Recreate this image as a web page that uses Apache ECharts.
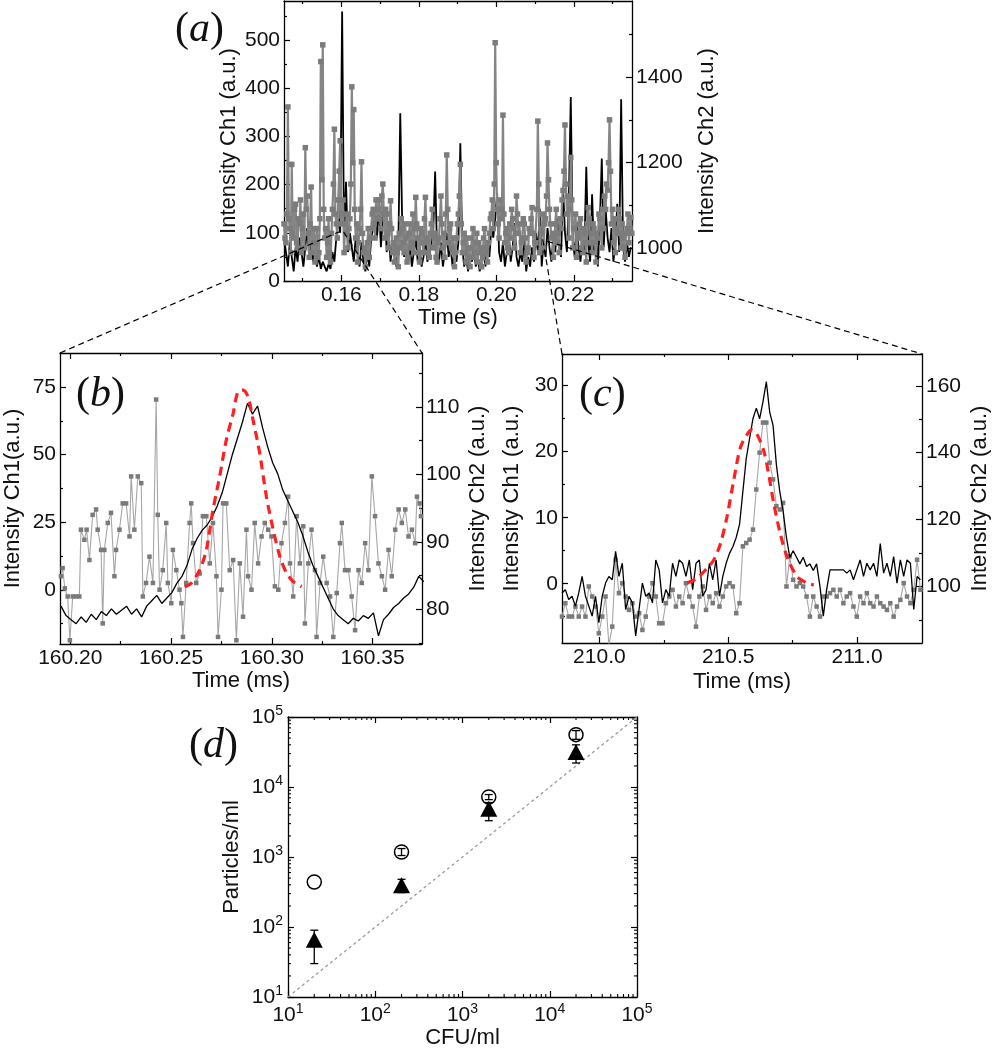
<!DOCTYPE html>
<html><head><meta charset="utf-8">
<script src="https://cdn.jsdelivr.net/npm/echarts@6/dist/echarts.min.js"></script>
<style>html,body{margin:0;padding:0;background:#fff}#c{width:993px;height:1050px}</style>
</head><body><div id="c"></div>
<script>
// ---------- DATA ----------
// (a) overview traces
const aStart = 0.1452;
const aCh1Step = 0.0005;   // Ch1 sampled every 0.5 ms
const aCh1 = [90,60,30,80,50,20,70,40,90,60,30,70,110,50,80,40,60,30,50,25,40,30,20,35,25,60,40,90,130,100,
559,80,206,60,100,70,40,90,60,30,80,40,20,60,30,90,110,140,90,160,70,130,150,60,100,40,80,50,30,70,
348,120,50,80,40,70,30,60,90,40,70,30,50,90,40,60,80,100,227,60,40,80,30,60,100,50,70,30,60,40,
80,286,70,30,50,20,60,40,70,30,50,20,40,60,30,80,50,110,90,130,182,60,40,80,30,60,100,40,70,120,
50,30,60,40,90,20,50,30,70,40,100,60,150,30,80,50,110,70,40,90,60,130,80,50,196,100,60,170,382,90,
50,120,70,40,90,60,237,80,40,180,60,100,30,120,254,70,150,90,60,110,40,80,160,60,377,70,40,80,50,70];
const aCh2Step = 0.00025;  // Ch2 sampled every 0.25 ms
const aCh2 = [
1057,1024,1013,1080,1330,1069,1046,990,1196,1035,1024,1091,1103,1013,1001,1069,1057,1113,990,1046,
1080,1001,1235,1091,1122,1035,979,1057,1143,990,1013,1046,968,1013,1046,979,990,1069,1436,1160,
1475,1091,1024,1046,979,1013,1069,990,968,1035,1091,1150,1278,1080,1057,1024,1113,1180,1251,1057,
1080,1113,990,1057,1035,1080,1001,1046,1069,1150,1377,1200,1324,1091,1024,1057,968,1013,1046,1091,
1202,1035,990,1001,957,990,1013,1046,979,1024,1046,1080,1091,1057,1024,1113,1069,1091,1113,1069,
1046,1122,1150,1080,1024,1091,1080,1035,1001,1057,1111,1046,990,1013,968,1001,1024,990,957,1035,
1001,1069,1046,1013,990,1057,1024,968,979,1035,1057,1001,1013,1080,990,1046,1119,1057,1024,990,
968,1046,1035,1013,990,1069,1119,1024,1013,990,979,1035,1057,1091,1001,1024,1035,979,968,1013,
1024,1069,1122,1057,1001,1035,979,1080,1218,1091,1013,1046,1057,1001,990,1024,957,990,1024,1057,
1080,1122,1196,1057,990,1013,1035,990,968,1024,1001,979,957,1001,1024,1046,979,990,1013,1035,
968,1013,990,1001,957,979,1024,1046,1001,990,968,1013,1035,1069,1080,1113,1046,1150,1480,1200,
1091,1057,1024,1113,1069,1091,1311,1080,1013,1035,1046,1001,990,1057,1024,1091,1069,1046,1001,1035,
1122,1080,1035,1057,990,1013,1024,1069,1057,1024,968,990,1001,1046,1035,1069,1095,1035,979,1013,
1013,1091,1297,1150,990,1046,1035,1080,1001,1057,1069,1122,1246,1160,1091,1057,1024,1035,979,1024,
1057,1091,1013,1035,990,1069,1046,1113,1135,1180,1288,1150,1080,1122,1024,1091,1212,1113,1001,1046,
1046,1080,979,1035,1024,1057,1069,1001,990,1046,1035,1013,968,1057,1095,1069,1013,1035,990,1057,
1046,1013,968,1035,1024,1080,1069,1046,1001,1091,1046,1122,1091,1150,1136,1200,1300,1180,1057,1091,
1013,1069,990,1046,1035,1091,1069,1035,1001,1057,1024,1001,979,1035,1046,1080,1013,1046,1072,1035];

// (b) event at ~160.29 ms
const bCh1Start = 160.1954, bCh1Step = 0.0025;
const bCh1 = [-6,-9.5,-11,-12.5,-10,-12,-9,-11,-8,-9.5,-7,-9,-7.5,-6,-9,-7,-10,-6,-4,-2,
-5,-3,-1,2.5,5,9,15,19,22,24,27,31,36,43,50,56,62,69,65,68,
60,53,47,43,37,33,29,25,20,14,9,5,1,-3,-7,-9.5,-11,-12.5,-10.5,-11.5,
-9.5,-10.5,-8.5,-17,-11,-9,-6.5,-5,-3,-1.5,1,5,3];
const bCh2Time = [160.1954,160.1962,160.1973,160.1987,160.1998,160.2012,160.2028,160.2045,160.2053,160.2070,
160.2081,160.2095,160.2111,160.2128,160.2136,160.2153,160.2161,160.2169,160.2186,160.2202,
160.2219,160.2227,160.2244,160.2260,160.2277,160.2294,160.2302,160.2318,160.2335,160.2352,
160.2360,160.2376,160.2393,160.2410,160.2426,160.2434,160.2443,160.2459,160.2476,160.2484,
160.2501,160.2509,160.2526,160.2542,160.2551,160.2559,160.2575,160.2592,160.2600,160.2609,
160.2625,160.2642,160.2658,160.2675,160.2692,160.2708,160.2725,160.2733,160.2750,160.2758,
160.2774,160.2791,160.2808,160.2824,160.2841,160.2857,160.2874,160.2882,160.2899,160.2915,
160.2932,160.2949,160.2965,160.2982,160.2998,160.3015,160.3032,160.3048,160.3065,160.3081,
160.3090,160.3106,160.3123,160.3139,160.3156,160.3164,160.3181,160.3197,160.3214,160.3222,
160.3239,160.3255,160.3272,160.3289,160.3305,160.3322,160.3338,160.3347,160.3363,160.3380,
160.3396,160.3413,160.3430,160.3446,160.3463,160.3479,160.3496,160.3512,160.3529,160.3546,
160.3562,160.3579,160.3595,160.3612,160.3629,160.3645,160.3662,160.3678,160.3695,160.3711,
160.3720,160.3733,160.3740];
const bCh2 = [84.9,86.1,83.1,81.9,75.4,81.9,81.9,81.9,91.8,90.3,
91.8,87.3,94.0,94.8,91.8,88.8,77.9,88.8,92.8,94.3,
84.9,88.8,91.8,95.7,95.7,90.8,99.7,91.8,99.7,98.7,
81.9,83.9,87.8,83.9,111.1,94.0,82.9,85.8,92.8,83.9,
80.9,88.8,85.8,82.9,80.9,75.9,83.9,92.8,95.7,89.8,
83.9,85.3,93.8,93.8,86.8,92.8,84.9,75.9,82.9,95.7,
95.7,85.8,87.3,75.4,86.8,78.9,91.8,84.9,82.9,92.8,
86.8,90.8,92.8,91.8,90.8,83.4,82.9,89.8,92.8,96.7,
86.8,81.9,93.8,86.8,92.3,77.9,86.8,91.8,85.8,75.9,
83.9,87.8,83.9,81.9,75.9,82.4,89.8,92.8,85.8,85.8,
81.9,76.9,85.8,83.9,89.8,85.8,99.7,93.8,86.8,84.9,
82.9,88.8,84.9,91.8,94.8,92.8,94.8,90.8,91.8,89.8,
96.7,95.7,93.8];
const bFitTime = [160.2567,160.2600,160.2642,160.2675,160.2708,160.2741,160.2774,160.2808,160.2832,160.2857,
160.2882,160.2907,160.2940,160.2973,160.3007,160.3040,160.3073,160.3106,160.3148];
const bFit = [1.2,2.5,7.4,14.8,29.6,41.9,55.4,65.3,73.3,73.9,71.4,62.8,50.5,34.5,22.2,12.3,6.2,3.1,1.2];

// (c) event at ~210.6 ms, sampled every 0.013 ms
const cStart = 209.855, cStep = 0.013;
const cCh1 = [-1.4,-0.9,-2.4,-1.9,-3.4,-1.4,1.1,-1.9,-3.4,-4.9,-1.9,-5.9,-1.9,0.1,1.1,0.6,4.9,1.1,3.1,-3.9,
-1.9,-2.9,-7.9,-3.9,0.1,-1.9,-1.4,-2.9,3.6,2.1,-2.9,-0.9,-1.9,3.1,1.1,3.6,3.1,1.1,3.6,-0.9,
3.1,3.6,-1.9,-0.9,3.1,0.6,3.6,-1.9,1.1,3.1,4.6,5.6,7,9,14,19,22,25,26.6,25,
27.6,30.6,26,24,18,14,11,7,4,5,4,3,4,2.6,3,2,3,-0.4,-4.9,-0.9,
2.1,2.1,2.1,2.1,2.1,1.6,2.1,0.6,2.1,3.6,1.1,3.1,2.1,3.1,1.1,6.1,1.6,3.1,1.1,4.1,
0.1,3.6,1.1,3.6,3.1,-3.9,1.1,0.6];
const cCh2 = [91,95,91,91,94,91,94,91,100,97,94,86,91,97,82.5,88,108,98,101,97,
93,95,91,92,87,91,97,101,97,89,89,95,97,99,94,97,95,101,97,94,
88,97,100,93,97,95,98,94,97,100,101,100,92,95,112,113,114,117,129,140,
149,149,137,132,124,123,125,100,109,102,100,101,100,97,91,97,94,91,97,97,
98,99,97,99,95,97,98,94,91,97,95,98,95,94,97,95,94,93,95,91,
94,96,101,97,95,99,108,99];
const cFitTime = [210.340,210.379,210.418,210.444,210.470,210.495,210.521,210.547,210.573,210.592,
210.612,210.638,210.657,210.677,210.702,210.728,210.767,210.806,210.832];
const cFit = [0.1,0.85,2.35,3.6,6.1,10.1,15.6,20.6,22.6,23.3,22.6,20.1,16.6,12.1,7.6,4.1,1.1,0.1,-0.2];

// (d) particles vs CFU
const dCFU = [20, 200, 2000, 20000];
const dCircle = [440, 1180, 7200, 56000];
const dCircleLo = [440, 1050, 6600, 48000];
const dCircleHi = [440, 1320, 7800, 64000];
const dTri = [66, 395, 4900, 31600];
const dTriLo = [30, 310, 3300, 22000];
const dTriHi = [90, 480, 6000, 40000];
const dRef = [10, 100000];

// tick values
const aXMajor = [0.16, 0.18, 0.20, 0.22], aXMinor = [0.15, 0.17, 0.19, 0.21, 0.23];
const aYLMajor = [0,100,200,300,400,500], aYLMinor = [50,150,250,350,450,550];
const aYRMajor = [1000,1200,1400], aYRMinor = [1100,1300,1500];
const bXMajor = [160.20,160.25,160.30,160.35], bXMinor = [160.225,160.275,160.325];
const bYLMajor = [0,25,50,75], bYLMinor = [-12.5,12.5,37.5,62.5];
const bYRMajor = [80,90,100,110], bYRMinor = [75,85,95,105,115];
const cXMajor = [210.0,210.5,211.0], cXMinor = [210.25,210.75];
const cYLMajor = [0,10,20,30], cYLMinor = [-5,5,15,25];
const cYRMajor = [100,120,140,160], cYRMinor = [90,110,130,150];

// ---------- CHART ----------
const FONT = '"Liberation Sans", Arial, sans-serif';
const TXT = '#111';
const LBL = 21, NAME = 22;
const chart = echarts.init(document.getElementById('c'), null, {renderer: 'canvas'});

const grids = [
  {left: 284, top: 1, width: 348, height: 280},
  {left: 60, top: 353, width: 362, height: 291},
  {left: 562, top: 354, width: 360, height: 289},
  {left: 288, top: 717, width: 349, height: 280}
];

function ax(o) {
  return {
    type: o.type || 'value', gridIndex: o.grid, position: o.pos,
    min: o.min, max: o.max, scale: true,
    splitNumber: o.splitNumber,
    name: o.name || '', nameLocation: 'middle', nameGap: o.nameGap || 0,
    nameTextStyle: {fontFamily: FONT, fontSize: NAME, color: TXT},
    axisLine: {show: o.line !== false, onZero: false, lineStyle: {color: '#000', width: 1.3}},
    axisTick: o.ticks === null ? {show: false} : Object.assign({show: true, inside: true, length: o.tickLen || 6,
      lineStyle: {color: '#000', width: 1.2}}, o.ticks ? {customValues: o.ticks} : {}),
    axisLabel: o.labels ? Object.assign({show: true, margin: o.margin || 4, fontFamily: FONT, fontSize: LBL, color: TXT,
      formatter: o.fmt, rich: o.rich}, o.labels === true ? {} : {customValues: o.labels}) : {show: false},
    splitLine: {show: false}, minorTick: {show: false}, minorSplitLine: {show: false}
  };
}
const f2 = v => v.toFixed(2), f1 = v => v.toFixed(1), f0 = v => String(Math.round(v));

function linearGrid(g, X, YL, YR) {
  const xs = [
    ax({grid: g, pos: 'bottom', min: X.min, max: X.max, ticks: X.major, labels: X.major, fmt: X.fmt, name: X.name, nameGap: X.gap}),
    ax({grid: g, pos: 'bottom', min: X.min, max: X.max, ticks: X.minor, tickLen: 3, line: false}),
    ax({grid: g, pos: 'top', min: X.min, max: X.max, ticks: X.major}),
    ax({grid: g, pos: 'top', min: X.min, max: X.max, ticks: X.minor, tickLen: 3, line: false})
  ];
  const ys = [
    ax({grid: g, pos: 'left', min: YL.min, max: YL.max, ticks: YL.major, labels: YL.major, fmt: f0, name: YL.name, nameGap: YL.gap}),
    ax({grid: g, pos: 'left', min: YL.min, max: YL.max, ticks: YL.minor, tickLen: 3, line: false}),
    ax({grid: g, pos: 'right', min: YR.min, max: YR.max, ticks: YR.major, labels: YR.major, fmt: f0, name: YR.name, nameGap: YR.gap}),
    ax({grid: g, pos: 'right', min: YR.min, max: YR.max, ticks: YR.minor, tickLen: 3, line: false})
  ];
  return {xs, ys};
}

const A = linearGrid(0,
  {min: 0.1452, max: 0.235, major: aXMajor, minor: aXMinor, fmt: f2, name: 'Time (s)', gap: 20},
  {min: 0, max: 581, major: aYLMajor, minor: aYLMinor, name: 'Intensity Ch1 (a.u.)', gap: 44},
  {min: 923.7, max: 1577.4, major: aYRMajor, minor: aYRMinor, name: 'Intensity Ch2 (a.u.)', gap: 64});
const B = linearGrid(1,
  {min: 160.1949, max: 160.3745, major: bXMajor, minor: bXMinor, fmt: f2, name: 'Time (ms)', gap: 26},
  {min: -20, max: 87.6, major: bYLMajor, minor: bYLMinor, name: 'Intensity Ch1(a.u.)', gap: 36},
  {min: 74.85, max: 118, major: bYRMajor, minor: bYRMinor, name: 'Intensity Ch2 (a.u.)', gap: 45});
const C = linearGrid(2,
  {min: 209.855, max: 211.252, major: cXMajor, minor: cXMinor, fmt: f1, name: 'Time (ms)', gap: 28},
  {min: -8.98, max: 34.8, major: cYLMajor, minor: cYLMinor, name: 'Intensity Ch1 (a.u.)', gap: 39},
  {min: 83.1, max: 169.5, major: cYRMajor, minor: cYRMinor, name: 'Intensity Ch2 (a.u.)', gap: 47});

const logFmt = v => '{b|10}{s|' + Math.round(Math.log10(v)) + '}';
const logRich = {b: {fontFamily: FONT, fontSize: LBL, color: TXT}, s: {fontFamily: FONT, fontSize: 14, color: TXT, padding: [0, 0, 12, 0]}};
const D = {
  xs: [
    ax({grid: 3, type: 'log', pos: 'bottom', min: 10, max: 100000, splitNumber: 4, labels: true, fmt: logFmt, rich: logRich, name: 'CFU/ml', nameGap: 30, margin: 5}),
    ax({grid: 3, type: 'log', pos: 'top', min: 10, max: 100000, splitNumber: 4})
  ],
  ys: [
    ax({grid: 3, type: 'log', pos: 'left', min: 10, max: 100000, splitNumber: 4, labels: true, fmt: logFmt, rich: logRich, name: 'Particles/ml', nameGap: 45, margin: 5}),
    ax({grid: 3, type: 'log', pos: 'right', min: 10, max: 100000, splitNumber: 4})
  ]
};

const xAxis = [...A.xs, ...B.xs, ...C.xs, ...D.xs];   // a:0-3, b:4-7, c:8-11, d:12-13
const yAxis = [...A.ys, ...B.ys, ...C.ys, ...D.ys];

const seq = (start, step, vals) => vals.map((v, i) => [+(start + i * step).toFixed(6), v]);
const zip = (t, v) => t.map((x, i) => [x, v[i]]);

// minor tick positions for log axes (2..9 per decade)
const logMinor = [];
[10, 100, 1000, 10000].forEach(d => { for (let k = 2; k <= 9; k++) logMinor.push(k * d); });

function errRender(params, api) {
  const x = api.value(0), lo = api.value(1), hi = api.value(2);
  if (lo === hi) return null;
  const p1 = api.coord([x, lo]), p2 = api.coord([x, hi]);
  const w = 4, st = {stroke: '#000', lineWidth: 1.3};
  return {type: 'group', children: [
    {type: 'line', shape: {x1: p1[0], y1: p1[1], x2: p2[0], y2: p2[1]}, style: st},
    {type: 'line', shape: {x1: p1[0] - w, y1: p1[1], x2: p1[0] + w, y2: p1[1]}, style: st},
    {type: 'line', shape: {x1: p2[0] - w, y1: p2[1], x2: p2[0] + w, y2: p2[1]}, style: st}
  ]};
}
function minorX(params, api) {
  const v = api.value(0);
  const b = api.coord([v, 10]), t = api.coord([v, 100000]);
  const st = {stroke: '#000', lineWidth: 1.1};
  return {type: 'group', children: [
    {type: 'line', shape: {x1: b[0], y1: b[1], x2: b[0], y2: b[1] - 3}, style: st},
    {type: 'line', shape: {x1: t[0], y1: t[1], x2: t[0], y2: t[1] + 3}, style: st}
  ]};
}
function minorY(params, api) {
  const v = api.value(1);
  const l = api.coord([10, v]), r = api.coord([100000, v]);
  const st = {stroke: '#000', lineWidth: 1.1};
  return {type: 'group', children: [
    {type: 'line', shape: {x1: l[0], y1: l[1], x2: l[0] + 3, y2: l[1]}, style: st},
    {type: 'line', shape: {x1: r[0], y1: r[1], x2: r[0] - 3, y2: r[1]}, style: st}
  ]};
}

const grayLine = (data, xi, yi, lineColor, markColor, lw, ms, z) => ({
  type: 'line', xAxisIndex: xi, yAxisIndex: yi, data, symbol: 'rect', symbolSize: ms, showSymbol: true, showAllSymbol: true,
  sampling: 'none', lineStyle: {color: lineColor, width: lw}, itemStyle: {color: markColor}, animation: false, silent: true, z
});
const blackLine = (data, xi, yi, lw, z) => ({
  type: 'line', xAxisIndex: xi, yAxisIndex: yi, data, symbol: 'none',
  lineStyle: {color: '#000', width: lw}, animation: false, silent: true, z
});
const redFit = (data, xi, yi) => ({
  type: 'line', xAxisIndex: xi, yAxisIndex: yi, data, symbol: 'none', smooth: 0.3,
  lineStyle: {color: '#ff1f1f', width: 3.2, type: [9, 6]}, animation: false, silent: true, z: 5
});

const series = [
  // (a)
  blackLine(seq(aStart, aCh1Step, aCh1), 0, 0, 1.8, 2),
  grayLine(seq(aStart, aCh2Step, aCh2), 0, 2, '#858585', '#7c7c7c', 2.2, 5.5, 3),
  // (b)
  grayLine(zip(bCh2Time, bCh2), 4, 6, '#a6a6a6', '#7a7a7a', 1.1, 4.5, 3),
  blackLine(seq(bCh1Start, bCh1Step, bCh1), 4, 4, 1.3, 4),
  redFit(zip(bFitTime, bFit), 4, 4),
  // (c)
  grayLine(seq(cStart, cStep, cCh2), 8, 10, '#a6a6a6', '#7a7a7a', 1.1, 4.5, 3),
  blackLine(seq(cStart, cStep, cCh1), 8, 8, 1.3, 4),
  redFit(zip(cFitTime, cFit), 8, 8),
  // (d)
  {type: 'line', xAxisIndex: 12, yAxisIndex: 12, data: [[dRef[0], dRef[0]], [dRef[1], dRef[1]]], symbol: 'none',
   lineStyle: {color: '#9a9a9a', width: 1.3, type: [3, 3]}, animation: false, silent: true},
  {type: 'scatter', xAxisIndex: 12, yAxisIndex: 12, data: zip(dCFU, dCircle), symbol: 'circle', symbolSize: 14,
   itemStyle: {color: '#fff', borderColor: '#000', borderWidth: 1.5, opacity: 1}, animation: false, silent: true, z: 3},
  {type: 'custom', xAxisIndex: 12, yAxisIndex: 12, renderItem: errRender, encode: {x: 0, y: [1, 2]},
   data: dCFU.map((c, i) => [c, dCircleLo[i], dCircleHi[i]]), animation: false, silent: true, z: 4},
  {type: 'scatter', xAxisIndex: 12, yAxisIndex: 12, data: zip(dCFU, dTri), symbol: 'triangle', symbolSize: [17, 16],
   itemStyle: {color: '#000', opacity: 1}, animation: false, silent: true, z: 5},
  {type: 'custom', xAxisIndex: 12, yAxisIndex: 12, renderItem: errRender, encode: {x: 0, y: [1, 2]},
   data: dCFU.map((c, i) => [c, dTriLo[i], dTriHi[i]]), animation: false, silent: true, z: 6},
  {type: 'custom', xAxisIndex: 12, yAxisIndex: 12, renderItem: minorX, encode: {x: 0, y: 1},
   data: logMinor.map(v => [v, 100]), animation: false, silent: true, clip: false},
  {type: 'custom', xAxisIndex: 12, yAxisIndex: 12, renderItem: minorY, encode: {x: 0, y: 1},
   data: logMinor.map(v => [100, v]), animation: false, silent: true, clip: false}
];

function panelLabel(id, letter, x, y) {
  return {type: 'text', id, left: x, top: y, z: 50, style: {
    text: '{p|(}{l|' + letter + '}{p|)}',
    rich: {
      p: {fontFamily: '"Liberation Serif", "Times New Roman", serif', fontSize: 42, fill: '#111'},
      l: {fontFamily: '"Liberation Serif", "Times New Roman", serif', fontSize: 42, fontStyle: 'italic', fill: '#111'}
    }
  }};
}

chart.setOption({
  backgroundColor: '#fff',
  animation: false,
  grid: grids.map(g => Object.assign({containLabel: false}, g)),
  xAxis, yAxis, series,
  graphic: [
    panelLabel('la', 'a', 175, 9),
    panelLabel('lb', 'b', 76, 374),
    panelLabel('lc', 'c', 579, 374),
    panelLabel('ld', 'd', 189, 725)
  ]
});

// zoom connectors from the overview (a) to panels (b) and (c)
const P1 = chart.convertToPixel({xAxisIndex: 0, yAxisIndex: 0}, [0.1603, 105]);
const P2 = chart.convertToPixel({xAxisIndex: 0, yAxisIndex: 0}, [0.212, 85]);
const bTL = chart.convertToPixel({xAxisIndex: 4, yAxisIndex: 4}, [160.1949, 87.6]);
const bTR = chart.convertToPixel({xAxisIndex: 4, yAxisIndex: 4}, [160.3745, 87.6]);
const cTL = chart.convertToPixel({xAxisIndex: 8, yAxisIndex: 8}, [209.855, 34.8]);
const cTR = chart.convertToPixel({xAxisIndex: 8, yAxisIndex: 8}, [211.252, 34.8]);
const dashSt = {stroke: '#000', lineWidth: 1.2, lineDash: [6, 4], fill: null};
chart.setOption({graphic: [
  {type: 'polyline', id: 'k1', z: 40, shape: {points: [bTL, P1, bTR]}, style: dashSt},
  {type: 'polyline', id: 'k2', z: 40, shape: {points: [cTL, P2, cTR]}, style: dashSt}
]});
</script></body></html>
